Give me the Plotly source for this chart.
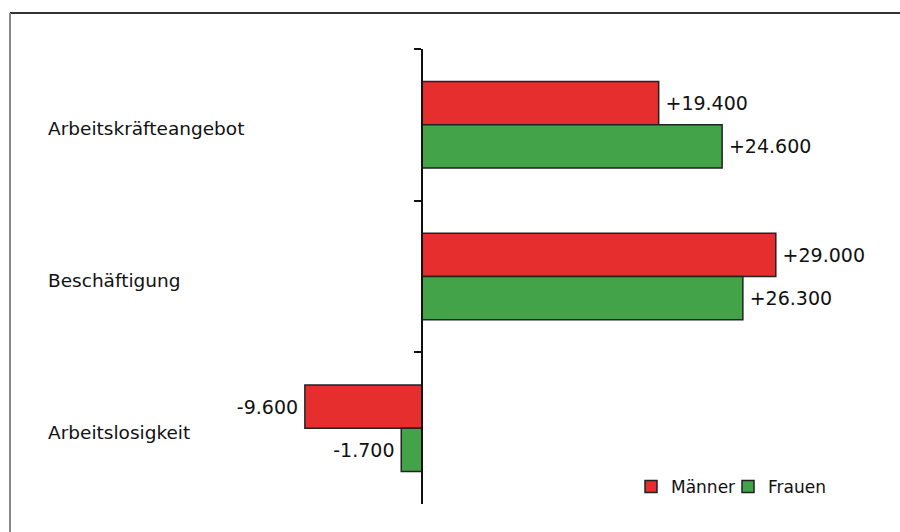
import plotly.graph_objects as go

categories = ["Arbeitskräfteangebot", "Beschäftigung", "Arbeitslosigkeit"]
maenner = [19400, 29000, -9600]
frauen = [24600, 26300, -1700]
series_names = ["Männer", "Frauen"]
colors = ["rgb(230,46,46)", "rgb(67,163,72)"]

W, H = 900, 532
ml, mr, mt, mb = 30, 20, 49, 28
pw = W - ml - mr
ph = H - mt - mb
zero_px = 422
scale = 12.2 / 1000.0  # px per unit
xmin = -(zero_px - ml) / scale
xmax = xmin + pw / scale

fig = go.Figure()
for name, vals, col in zip(series_names, [maenner, frauen], colors):
    tmpl = ["\u2009%{x:+,}" if v >= 0 else "%{x:+,}\u2009" for v in vals]
    fig.add_trace(go.Bar(
        y=categories, x=vals, orientation="h", name=name,
        marker=dict(color=col, line=dict(color="#222222", width=1.5)),
        texttemplate=tmpl, textposition="outside",
        textfont=dict(family="DejaVu Sans", size=19, color="#111111"),
        cliponaxis=False,
    ))

fig.update_layout(
    width=W, height=H,
    margin=dict(l=ml, r=mr, t=mt, b=mb, autoexpand=False),
    paper_bgcolor="white", plot_bgcolor="white",
    barmode="group", bargap=0.43, bargroupgap=0,
    separators=",.",
    font=dict(family="DejaVu Sans", size=17, color="#111111"),
    showlegend=True,
    legend=dict(orientation="h", x=(631 - ml) / pw, y=(H - mb - 487) / ph,
                xanchor="left", yanchor="middle",
                font=dict(size=17), bgcolor="rgba(0,0,0,0)",
                itemwidth=30, entrywidth=52, tracegroupgap=0),
    xaxis=dict(range=[xmin, xmax], visible=False, showgrid=False, zeroline=False),
    yaxis=dict(
        categoryorder="array", categoryarray=categories, autorange="reversed",
        anchor="free", position=(zero_px - ml) / pw,
        showline=True, linecolor="#111111", linewidth=1.6,
        ticks="outside", tickson="boundaries", ticklen=7, tickwidth=1.6, tickcolor="#111111",
        showticklabels=False, showgrid=False, zeroline=False,
    ),
)

for cat in categories:
    fig.add_annotation(
        text=cat, xref="paper", yref="y", x=(46 - ml) / pw, y=cat, yshift=-4,
        xanchor="left", yanchor="middle", showarrow=False,
        font=dict(family="DejaVu Sans", size=18.5, color="#111111"),
    )

# chart frame (top and left edges)
fx = (10 - ml) / pw
fy = 1 + (mt - 13) / ph
fig.add_shape(type="line", xref="paper", yref="paper", x0=fx, x1=1.2, y0=fy, y1=fy,
              line=dict(color="#333333", width=2))
fig.add_shape(type="line", xref="paper", yref="paper", x0=fx, x1=fx, y0=fy, y1=-0.2,
              line=dict(color="#888888", width=2))

fig.write_html("out.html")
